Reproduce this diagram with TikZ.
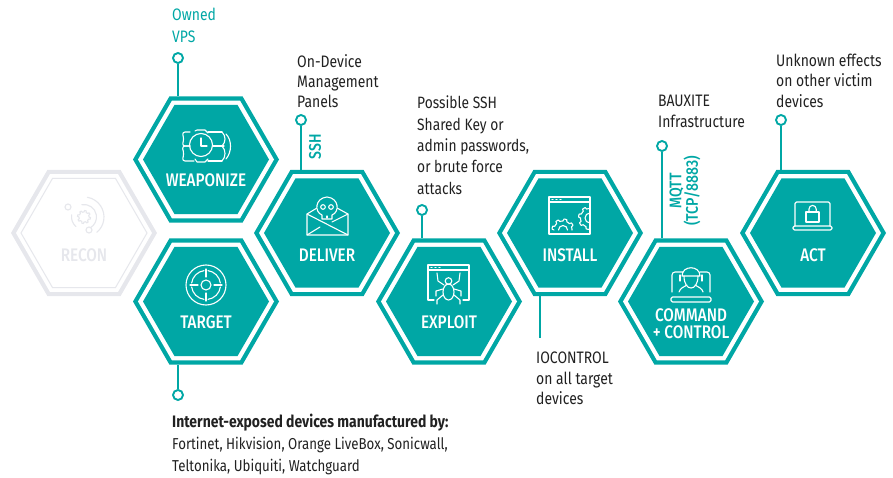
\documentclass[tikz,border=0pt]{standalone}
\usepackage{fontspec}
\setmainfont{Fira Sans}[FakeStretch=0.84]
\newfontfamily\labelfont{Fira Sans Medium}[FakeStretch=0.84]
\usetikzlibrary{shapes.geometric}
\newlength{\du}
\setlength{\du}{1\unitlength}
\definecolor{hexteal}{rgb}{0.000000, 0.655000, 0.647000}
\definecolor{hexfaint}{rgb}{0.902000, 0.906000, 0.925000}
\definecolor{notedark}{rgb}{0.130000, 0.130000, 0.130000}
\tikzset{
  hexbase/.style={regular polygon, regular polygon sides=6, inner sep=0pt, outer sep=0pt},
  hexouter/.style={hexbase, minimum size=146\du, fill=hexteal},
  hexring/.style={hexbase, minimum size=136\du, fill=white},
  hexinner/.style={hexbase, minimum size=126\du, fill=hexteal},
  hexlabel/.style={text=white, font=\fontsize{18.2}{17}\labelfont, inner sep=0pt, align=center},
  notetext/.style={text=notedark, font=\fontsize{16.6}{20.2}\selectfont, anchor=north west, align=left, inner sep=0pt},
  linktext/.style={text=hexteal, font=\fontsize{16.8}{16.5}\labelfont, rotate=90, align=center, inner sep=0pt},
  pin/.style={circle, draw=hexteal, line width=1.9\du, fill=white, minimum size=10\du, inner sep=0pt},
  link/.style={draw=hexteal, line width=1.9\du},
  iconline/.style={draw=white, line width=1.1\du, line join=round, line cap=round},
  faintline/.style={draw=hexfaint, line width=1.1\du, line join=round, line cap=round}
}

\begin{document}
\begin{tikzpicture}[x=\du,y=\du]
\pgftransformyscale{-1.000000}
\useasboundingbox (0,0) rectangle (893,478);

\node[hexouter, fill=hexfaint] (recon) at (84,233){};
\node[hexring] (reconring) at (84,233){};
\node[hexinner, fill=white, draw=hexfaint, line width=1\du] (reconinner) at (84,233){};
\node[hexlabel, text=hexfaint] (reconlabel) at (84,255){RECON};

\node[hexouter] (weaponize) at (206,159.5){};
\node[hexring] (weaponizering) at (206,159.5){};
\node[hexinner] (weaponizeinner) at (206,159.5){};
\node[hexlabel] (weaponizelabel) at (206,180){WEAPONIZE};

\node[hexouter] (target) at (206,301.5){};
\node[hexring] (targetring) at (206,301.5){};
\node[hexinner] (targetinner) at (206,301.5){};
\node[hexlabel] (targetlabel) at (206,322){TARGET};

\node[hexouter] (deliver) at (327,233){};
\node[hexring] (deliverring) at (327,233){};
\node[hexinner] (deliverinner) at (327,233){};
\node[hexlabel] (deliverlabel) at (327,255){DELIVER};

\node[hexouter] (exploit) at (449,301.5){};
\node[hexring] (exploitring) at (449,301.5){};
\node[hexinner] (exploitinner) at (449,301.5){};
\node[hexlabel] (exploitlabel) at (449,322){EXPLOIT};

\node[hexouter] (install) at (570,233){};
\node[hexring] (installring) at (570,233){};
\node[hexinner] (installinner) at (570,233){};
\node[hexlabel] (installlabel) at (570,255){INSTALL};

\node[hexouter] (command) at (691,301.5){};
\node[hexring] (commandring) at (691,301.5){};
\node[hexinner] (commandinner) at (691,301.5){};
\node[hexlabel] (commandlabel) at (691,324){COMMAND\\+ CONTROL};

\node[hexouter] (act) at (813,233){};
\node[hexring] (actring) at (813,233){};
\node[hexinner] (actinner) at (813,233){};
\node[hexlabel] (actlabel) at (813,255){ACT};

\node[pin] (pinowned) at (178,58){};
\node[pin] (pinpanels) at (301,120){};
\node[pin] (pinssh) at (422,210){};
\node[pin] (pintarget) at (178,395){};
\node[pin] (pinbauxite) at (662,146){};
\node[pin] (pinact) at (781,120){};
\coordinate (installend) at (540,338);

\draw[link] (pinowned) -- (pinowned |- weaponize.north);
\draw[link] (pinpanels) -- (pinpanels |- deliver.north);
\draw[link] (pinssh) -- (pinssh |- exploit.north);
\draw[link] (pintarget) -- (pintarget |- target.south);
\draw[link] (pinbauxite) -- (pinbauxite |- command.north);
\draw[link] (pinact) -- (pinact |- act.north);
\draw[link] (install.south -| installend) -- (installend);

\node[notetext, text=hexteal, font=\fontsize{16.6}{22}\selectfont] (ownednote) at (172,8){Owned\\VPS};
\node[notetext] (panelsnote) at (297,54){On-Device\\Management\\Panels};
\node[notetext, font=\fontsize{16.4}{21.3}\selectfont] (sshnote) at (417,96){Possible SSH\\Shared Key or\\admin passwords,\\or brute force\\attacks};
\node[notetext, font=\fontsize{16.6}{21.3}\selectfont] (bauxitenote) at (658,95){BAUXITE\\Infrastructure};
\node[notetext] (actnote) at (776,54){Unknown effects\\on other victim\\devices};
\node[notetext] (ioctlnote) at (536,352){IOCONTROL\\on all target\\devices};
\node[notetext, font=\fontsize{15.8}{22}\selectfont] (targetnote) at (172,414){\fontsize{16.6}{22}\selectfont\textbf{Internet-exposed devices manufactured by:}\\Fortinet, Hikvision, Orange LiveBox, Sonicwall,\\Teltonika, Ubiquiti, Watchguard};
\node[linktext] (sshlink) at (315,147){SSH};
\node[linktext] (mqttlink) at (685,191){MQTT\\(TCP/8883)};

% recon icon
\draw[faintline, shift={(84,217)}, domain=0:360, samples=73] plot (\x:{5+1.5*(sin(8*\x)>0)});
\draw[faintline] (84,217) ++(-100:12.5) arc (-100:60:12.5);
\draw[faintline] (84,217) ++(-170:12.5) arc (-170:-230:12.5);
\draw[faintline] (84,217) ++(-80:20) arc (-80:50:20);
\draw[faintline] (68,207) circle (3);
\draw[faintline] (89,230) circle (3);

% weaponize icon
\draw[iconline] (201,145) circle (11.5);
\draw[iconline] (201,138) -- (201,146) -- (207,146);
\draw[iconline] (195,131) -- (197,130) -- (205,130) -- (208,133);
\draw[iconline] (195,159) -- (197,162) -- (205,162) -- (208,159);
\draw[iconline, rounded corners=3] (190,132) -- (182,132) -- (184,139) -- (182,146) -- (190,146);
\draw[iconline, rounded corners=3] (190,146) -- (182,146) -- (184,154) -- (182,161) -- (194,161);
\draw[iconline] (208,132) -- (222,132);
\draw[iconline] (208,161) -- (222,161);
\draw[iconline] (213,146) -- (224,146);
\draw[iconline] (222,132) .. controls (226,136) and (226,142) .. (222,146) .. controls (226,150) and (226,157) .. (222,161);
\draw[iconline] (226,134) .. controls (232,140) and (232,152) .. (226,159);

% target icon
\draw[iconline] (206,285) circle (20);
\draw[iconline] (206,285) circle (5);
\draw[iconline] (206,285) ++(8:14.5) arc (8:82:14.5);
\draw[iconline] (206,285) ++(98:14.5) arc (98:172:14.5);
\draw[iconline] (206,285) ++(188:14.5) arc (188:262:14.5);
\draw[iconline] (206,285) ++(278:14.5) arc (278:352:14.5);
\draw[iconline] (190,285) -- (198,285);
\draw[iconline] (214,285) -- (222,285);
\draw[iconline] (206,269) -- (206,277);
\draw[iconline] (206,293) -- (206,301);

% deliver icon
\draw[iconline] (317,208) -- (307,214) -- (307,235) -- (348,235) -- (348,214) -- (337,208);
\draw[iconline] (307,214) -- (348,235);
\draw[iconline] (348,214) -- (332,222);
\draw[iconline] (307,235) -- (320,227);
\draw[iconline, fill=hexteal] (322,219) -- (322,215) .. controls (314,212) and (315,198) .. (327,197) .. controls (339,198) and (340,212) .. (332,215) -- (332,219) -- (322,219);
\draw[iconline] (323,207) circle (2.3);
\draw[iconline] (331,207) circle (2.3);
\draw[iconline] (327,216) -- (327,218);

% exploit icon
\draw[iconline] (434,300) -- (428,300) -- (428,265) -- (469,265) -- (469,300) -- (463,300);
\draw[iconline] (428,270) -- (469,270);
\draw[iconline] (431,267.5) -- (432,267.5);
\draw[iconline] (435,267.5) -- (436,267.5);
\draw[iconline] (439,267.5) -- (440,267.5);
\draw[iconline] (448.5,292) ellipse (5.5 and 8);
\draw[iconline] (448.5,281) circle (3.3);
\draw[iconline] (437,273) -- (438,281) -- (444,285);
\draw[iconline] (460,273) -- (459,281) -- (453,285);
\draw[iconline] (443,289) -- (436,291) -- (436,296);
\draw[iconline] (454,289) -- (461,291) -- (461,296);
\draw[iconline] (443,295) -- (437,300) -- (437,304);
\draw[iconline] (454,295) -- (460,300) -- (460,304);

% install icon
\draw[iconline] (549,197) rectangle (590,234);
\draw[iconline] (549,202) -- (590,202);
\draw[iconline] (552,199.5) -- (553,199.5);
\draw[iconline] (556,199.5) -- (557,199.5);
\draw[iconline] (560,199.5) -- (561,199.5);
\draw[iconline, shift={(563,230)}, domain=180:360, samples=37] plot (\x:{9+2*(sin(8*\x)>0)});
\draw[iconline] (567.5,230) arc (0:-180:4.5);
\draw[iconline, shift={(590,218)}, domain=90:270, samples=37] plot (\x:{9.5+2*(sin(8*\x)>0)});
\draw[iconline] (590,213) arc (-90:-270:5);

% command icon
\draw[iconline, rounded corners=3] (672,292) -- (672,272) -- (683,272);
\draw[iconline, rounded corners=3] (700,272) -- (710,272) -- (710,292);
\draw[iconline, rounded corners=1.5] (671,297) rectangle (711,302);
\draw[iconline] (682,276) .. controls (682,265) and (700,265) .. (700,276) -- (682,276);
\draw[iconline] (684,276) .. controls (684,292) and (698,292) .. (698,276);
\draw[iconline] (680,275) -- (680,281);
\draw[iconline] (702,275) -- (702,281);
\draw[iconline] (679,292) .. controls (680,288) and (684,287) .. (687,285);
\draw[iconline] (703,292) .. controls (702,288) and (698,287) .. (695,285);

% act icon
\draw[iconline, rounded corners=1.5] (795,226) -- (795,202) -- (830,202) -- (830,226);
\draw[iconline, rounded corners=1.5] (793,226) rectangle (832,230);
\draw[iconline] (806,212) rectangle (819,222);
\draw[iconline] (809,212) -- (809,209) arc (180:360:3.6) -- (816.2,212);
\end{tikzpicture}
\end{document}
